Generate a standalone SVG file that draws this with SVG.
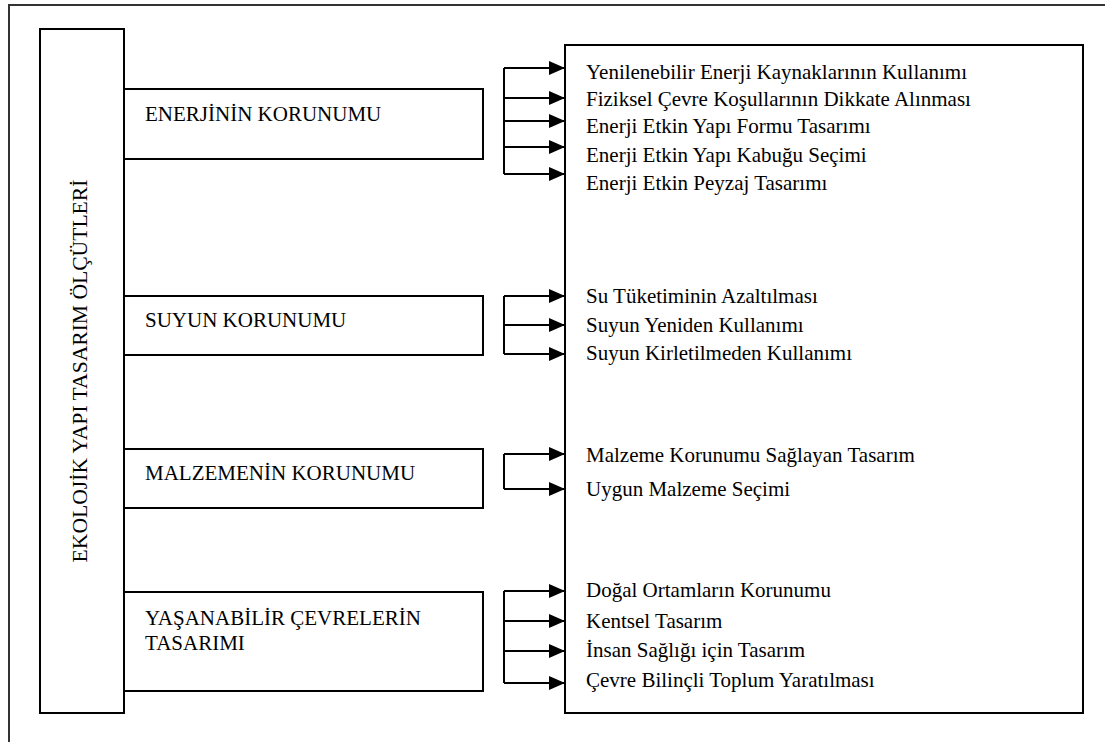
<svg xmlns="http://www.w3.org/2000/svg" width="1105" height="742" viewBox="0 0 1105 742">
<style>
.box{fill:#fff;stroke:#000;stroke-width:2}
.frame{fill:#fff;stroke:#333;stroke-width:2}
.t{font-family:'Liberation Serif','Times New Roman','DejaVu Serif',serif;font-size:21px;fill:#000}
.c{fill:none;stroke:#000;stroke-width:2}
</style>
<defs>
<marker id="ah" markerUnits="userSpaceOnUse" markerWidth="16" markerHeight="14" refX="16" refY="7" orient="auto">
<path d="M0,0 L16,7 L0,14 z" fill="#000"/>
</marker>
</defs>
<rect class="frame" x="9" y="5" width="1110" height="750"/>
<g id="node-main">
<rect class="box" x="40" y="29" width="84" height="684"/>
<text class="t" style="font-size:21.6px" text-anchor="middle" transform="translate(87,371) rotate(-90)">EKOLOJİK YAPI TASARIM ÖLÇÜTLERİ</text>
</g>
<g id="node-enerji">
<rect class="box" x="124" y="89" width="359" height="70"/>
<text class="t" x="145" y="121">ENERJİNİN KORUNUMU</text>
</g>
<g id="node-su">
<rect class="box" x="124" y="296" width="359" height="59"/>
<text class="t" x="145" y="327">SUYUN KORUNUMU</text>
</g>
<g id="node-malzeme">
<rect class="box" x="124" y="449" width="359" height="59"/>
<text class="t" x="145" y="480">MALZEMENİN KORUNUMU</text>
</g>
<g id="node-yasanabilir">
<rect class="box" x="124" y="592" width="359" height="99"/>
<text class="t" x="145" y="625">YAŞANABİLİR ÇEVRELERİN</text>
<text class="t" x="145" y="650">TASARIMI</text>
</g>
<g id="node-list">
<rect class="box" x="565" y="45" width="518" height="668"/>
<text class="t" x="586" y="79">Yenilenebilir Enerji Kaynaklarının Kullanımı</text>
<text class="t" x="586" y="106">Fiziksel Çevre Koşullarının Dikkate Alınması</text>
<text class="t" x="586" y="133">Enerji Etkin Yapı Formu Tasarımı</text>
<text class="t" x="586" y="162">Enerji Etkin Yapı Kabuğu Seçimi</text>
<text class="t" x="586" y="190">Enerji Etkin Peyzaj Tasarımı</text>
<text class="t" x="586" y="303">Su Tüketiminin Azaltılması</text>
<text class="t" x="586" y="332">Suyun Yeniden Kullanımı</text>
<text class="t" x="586" y="360">Suyun Kirletilmeden Kullanımı</text>
<text class="t" x="586" y="462">Malzeme Korunumu Sağlayan Tasarım</text>
<text class="t" x="586" y="496">Uygun Malzeme Seçimi</text>
<text class="t" x="586" y="597">Doğal Ortamların Korunumu</text>
<text class="t" x="586" y="628">Kentsel Tasarım</text>
<text class="t" x="586" y="657">İnsan Sağlığı için Tasarım</text>
<text class="t" x="586" y="687">Çevre Bilinçli Toplum Yaratılması</text>
</g>
<g id="connectors">
<path class="c" d="M504,68 V174"/>
<path class="c" d="M504,68 H565" marker-end="url(#ah)"/>
<path class="c" d="M504,98 H565" marker-end="url(#ah)"/>
<path class="c" d="M504,121 H565" marker-end="url(#ah)"/>
<path class="c" d="M504,147 H565" marker-end="url(#ah)"/>
<path class="c" d="M504,174 H565" marker-end="url(#ah)"/>
<path class="c" d="M504,296 V354"/>
<path class="c" d="M504,296 H565" marker-end="url(#ah)"/>
<path class="c" d="M504,325 H565" marker-end="url(#ah)"/>
<path class="c" d="M504,354 H565" marker-end="url(#ah)"/>
<path class="c" d="M504,454 V489"/>
<path class="c" d="M504,454 H565" marker-end="url(#ah)"/>
<path class="c" d="M504,489 H565" marker-end="url(#ah)"/>
<path class="c" d="M504,591 V683"/>
<path class="c" d="M504,591 H565" marker-end="url(#ah)"/>
<path class="c" d="M504,621 H565" marker-end="url(#ah)"/>
<path class="c" d="M504,651 H565" marker-end="url(#ah)"/>
<path class="c" d="M504,683 H565" marker-end="url(#ah)"/>
</g>
</svg>
